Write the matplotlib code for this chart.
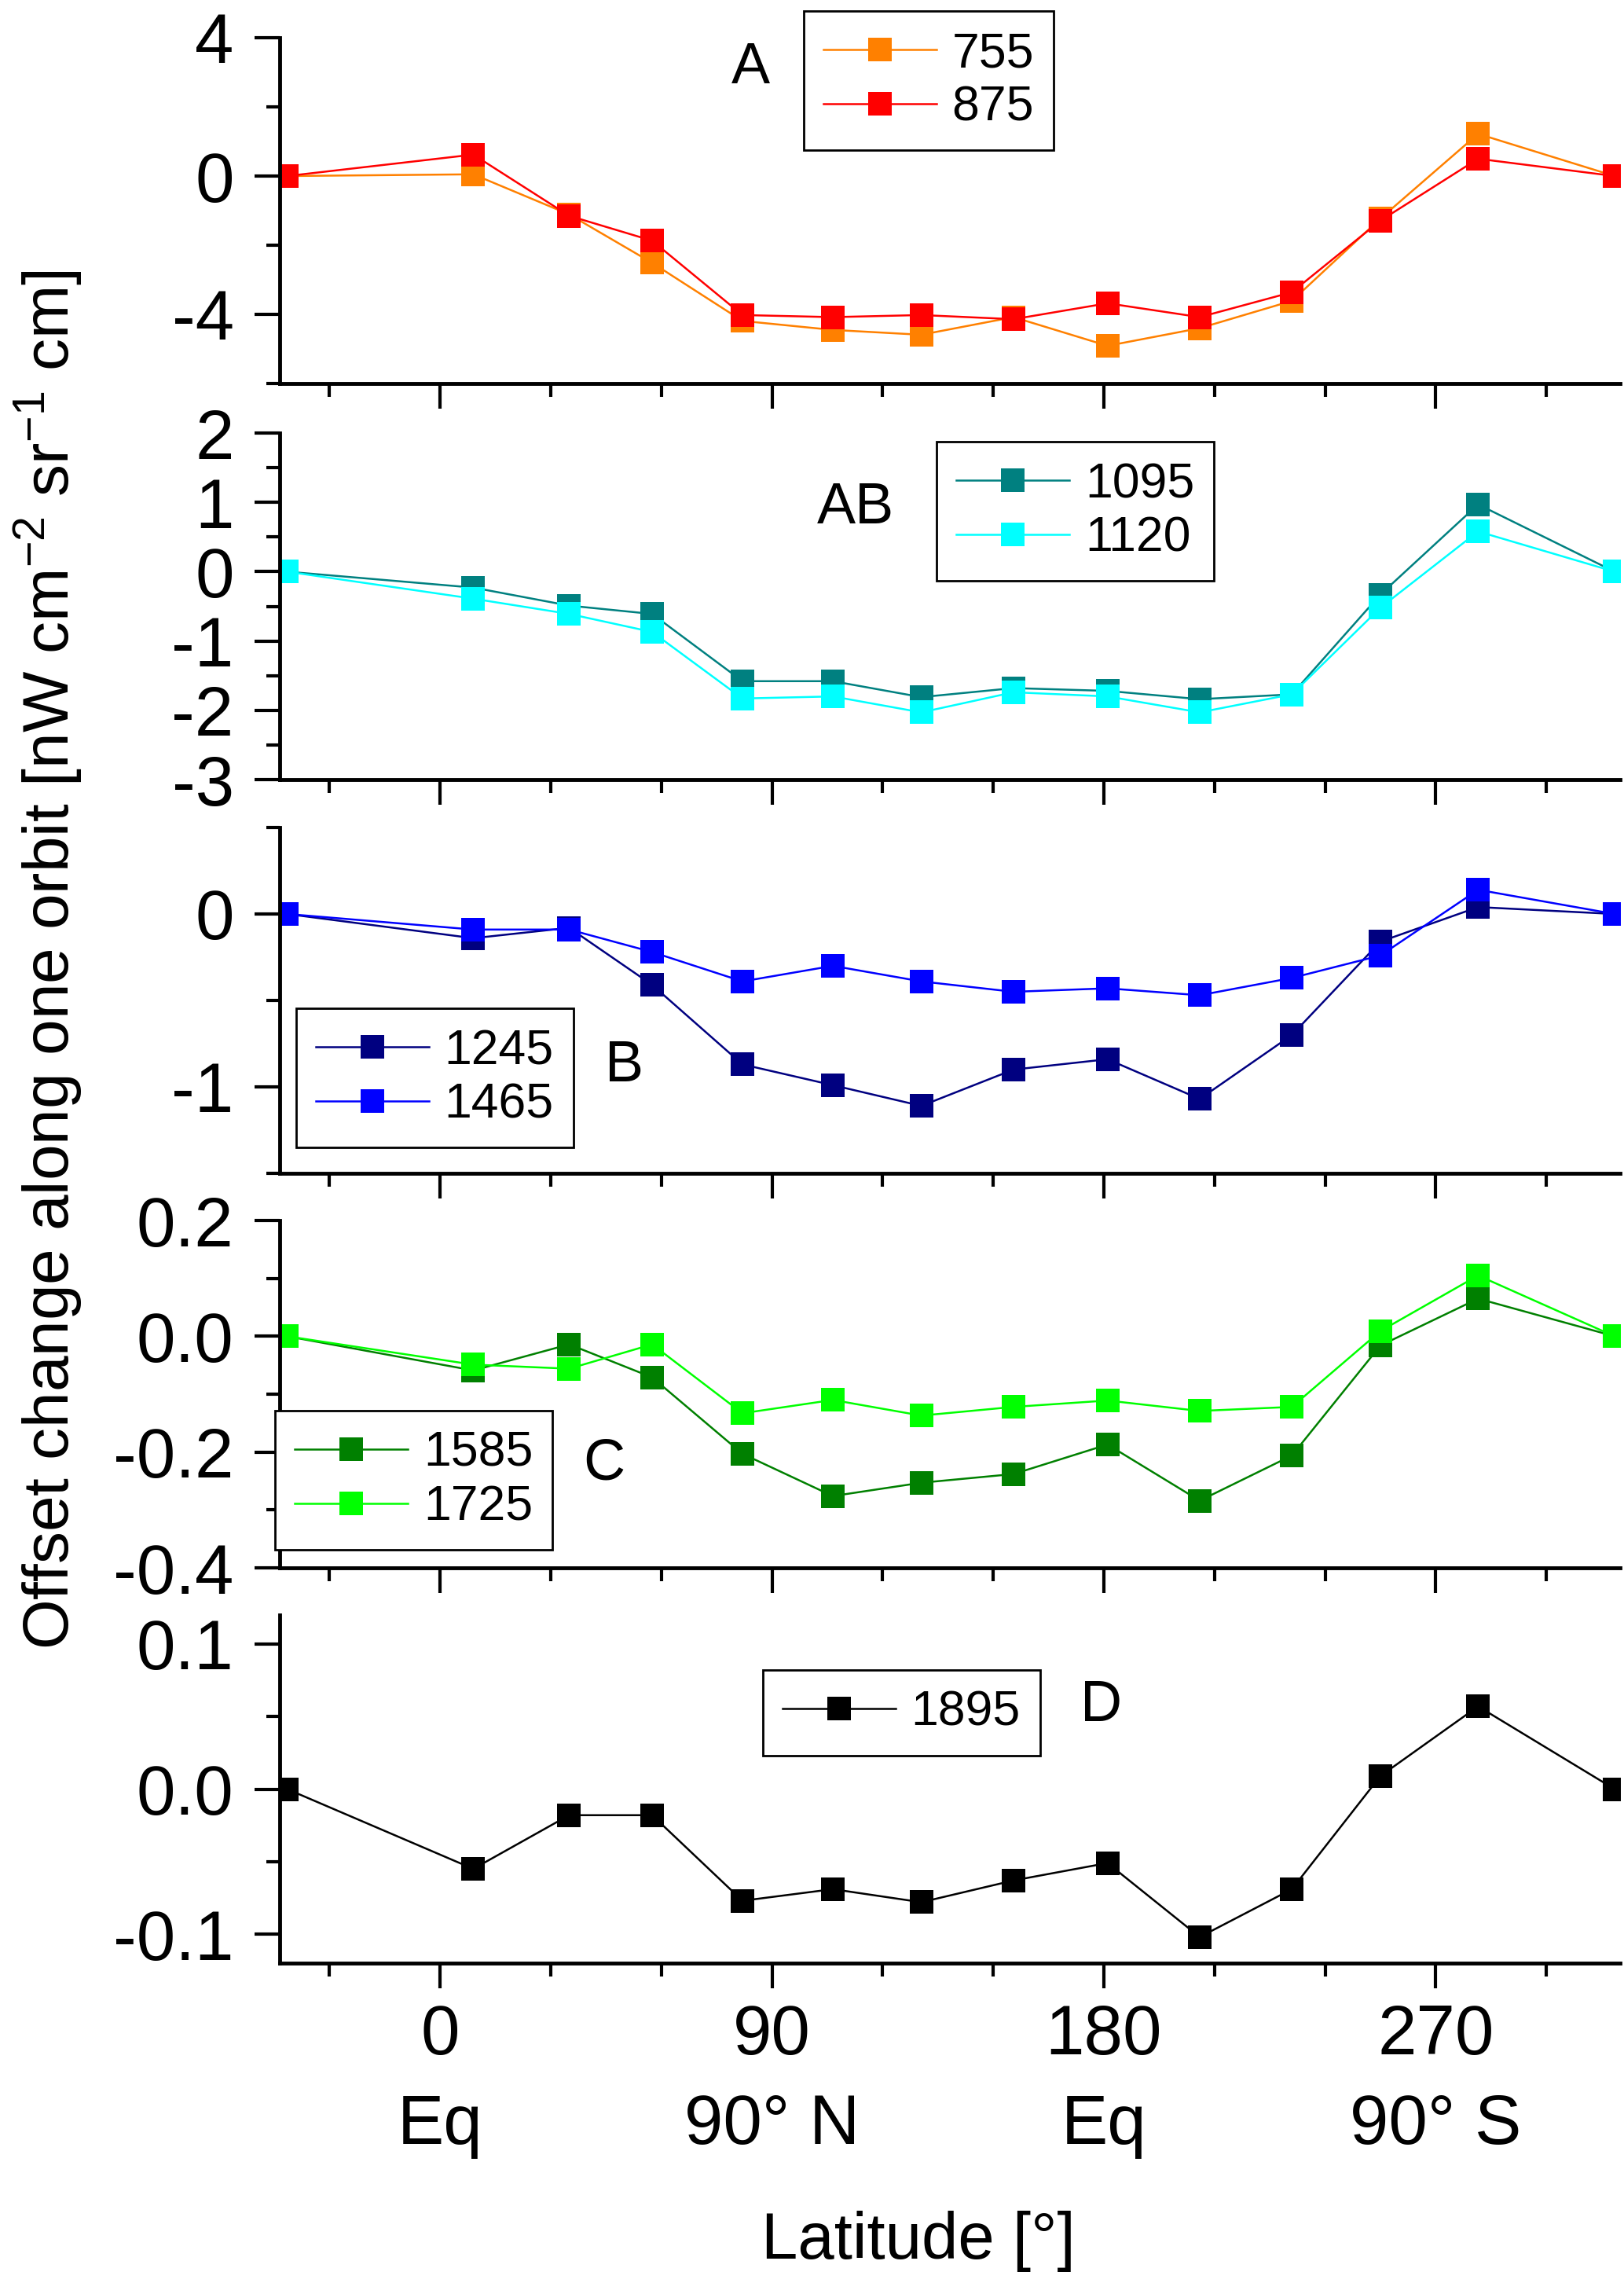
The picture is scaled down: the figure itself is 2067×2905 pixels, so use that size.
import matplotlib
matplotlib.use("Agg")
import matplotlib.pyplot as plt
from matplotlib.ticker import FixedLocator, MultipleLocator, FormatStrFormatter

plt.rcParams["font.family"] = ["Liberation Sans", "DejaVu Sans"]
plt.rcParams["mathtext.fontset"] = "custom"
plt.rcParams["mathtext.rm"] = "Liberation Sans"
plt.rcParams["mathtext.it"] = "Liberation Sans:italic"
plt.rcParams["axes.unicode_minus"] = False

# position along the orbit [deg]
lat = [-41.5, 9, 35, 57.5, 82, 106.5, 130.5, 155.5, 181, 206, 231, 255, 281.5, 318.5]

off_755 = [0, 0.05, -1.11, -2.51, -4.19, -4.45, -4.59, -4.08, -4.91, -4.40, -3.61, -1.23, 1.22, 0]
off_875 = [0, 0.62, -1.15, -1.87, -4.02, -4.08, -4.02, -4.14, -3.68, -4.08, -3.36, -1.29, 0.50, 0]
off_1095 = [0, -0.23, -0.49, -0.61, -1.58, -1.58, -1.81, -1.68, -1.72, -1.84, -1.77, -0.33, 0.97, 0]
off_1120 = [0, -0.39, -0.61, -0.87, -1.83, -1.80, -2.03, -1.74, -1.80, -2.03, -1.77, -0.52, 0.58, 0]
off_1245 = [0, -0.14, -0.08, -0.41, -0.87, -0.99, -1.11, -0.90, -0.84, -1.07, -0.70, -0.16, 0.04, 0]
off_1465 = [0, -0.09, -0.09, -0.22, -0.39, -0.30, -0.39, -0.45, -0.43, -0.47, -0.37, -0.24, 0.14, 0]
off_1585 = [0, -0.059, -0.014, -0.071, -0.203, -0.276, -0.253, -0.238, -0.187, -0.284, -0.206, -0.016, 0.065, 0]
off_1725 = [0, -0.049, -0.056, -0.014, -0.133, -0.110, -0.137, -0.122, -0.111, -0.129, -0.122, 0.009, 0.105, 0]
off_1895 = [0, -0.055, -0.018, -0.018, -0.077, -0.069, -0.078, -0.063, -0.051, -0.102, -0.069, 0.009, 0.057, 0]

xticks = [0, 90, 180, 270]
xticklabels = ["0\nEq", "90\n90° N", "180\nEq", "270\n90° S"]

W, H = 2067, 2905
X0, X1 = 356, 2062          # axes left/right in pixels
XLIM = (-43.5, 320)

# (letter, series, ylim, major, minor, fmt, panel top/bottom px, letter pos px, legend top-left px)
PANELS = [
    ("A", [("755", off_755, "#FF8000"), ("875", off_875, "#FF0000")],
     (-6, 4), 4, 2, "%d", (48, 488), (955, 87), (1023, 14)),
    ("AB", [("1095", off_1095, "#008080"), ("1120", off_1120, "#00FFFF")],
     (-3, 2), 1, 0.5, "%d", (551, 992), (1089, 646), (1192, 562)),
    ("B", [("1245", off_1245, "#000080"), ("1465", off_1465, "#0000FF")],
     (-1.5, 0.5), 1, 0.5, "%d", (1053, 1493), (795, 1356), (377, 1283)),
    ("C", [("1585", off_1585, "#008000"), ("1725", off_1725, "#00FF00")],
     (-0.4, 0.2), 0.2, 0.1, "%.1f", (1553, 1995), (769, 1863), (350, 1795)),
    ("D", [("1895", off_1895, "#000000")],
     (-0.12, 0.12), 0.1, 0.05, "%.1f", (2055, 2498), (1402, 2170), (971, 2125)),
]

fig = plt.figure(figsize=(W / 100, H / 100), dpi=100)

for k, (letter, series, ylim, major, minor, fmt, (ptop, pbot), (lx, ly), (gx, gy)) in enumerate(PANELS):
    ax = fig.add_axes([X0 / W, 1 - pbot / H, (X1 - X0) / W, (pbot - ptop) / H])
    for name, vals, col in series:
        ax.plot(lat, vals, "-", color=col, lw=1.8, marker="s", ms=21.6, mew=0, label=name)
    ax.set_xlim(*XLIM)
    ax.set_ylim(*ylim)
    for s in ("top", "right"):
        ax.spines[s].set_visible(False)
    for s in ("left", "bottom"):
        ax.spines[s].set_linewidth(3.5)
    ax.xaxis.set_major_locator(FixedLocator(xticks))
    ax.xaxis.set_minor_locator(MultipleLocator(30))
    ax.yaxis.set_major_locator(MultipleLocator(major))
    ax.yaxis.set_minor_locator(MultipleLocator(minor))
    ax.yaxis.set_major_formatter(FormatStrFormatter(fmt))
    ax.tick_params(which="major", direction="out", length=23, width=3)
    ax.tick_params(which="minor", direction="out", length=12, width=3)
    ax.tick_params(axis="y", labelsize=64, pad=19)
    ax.tick_params(axis="x", labelsize=64, pad=14)
    if k == len(PANELS) - 1:
        ax.set_xticklabels(xticklabels, linespacing=1.45)
    else:
        ax.set_xticklabels([])
    fig.text(lx / W, 1 - ly / H, letter, fontsize=53, ha="center", va="center")
    leg = ax.legend(loc="upper left", bbox_to_anchor=(gx / W, 1 - gy / H),
                    bbox_transform=fig.transFigure, borderaxespad=0,
                    fontsize=45, handlelength=2.3, handletextpad=0.32,
                    borderpad=0.4, labelspacing=0.15, fancybox=False,
                    framealpha=1, edgecolor="black")
    leg.get_frame().set_linewidth(2)

fig.text(62 / W, 1 - 1221 / H,
         "Offset change along one orbit [nW cm$^{-2}$ sr$^{-1}$ cm]",
         fontsize=59, rotation=90, ha="center", va="center")
fig.text(1169 / W, 1 - 2852 / H, "Latitude [°]", fontsize=60, ha="center", va="center")

fig.savefig("out.png", dpi=100)
